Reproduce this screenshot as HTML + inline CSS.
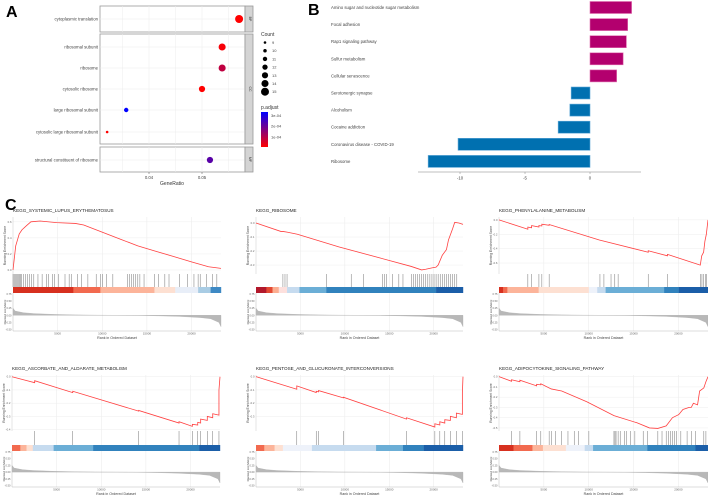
<!DOCTYPE html>
<html><head><meta charset="utf-8"><style>
html,body{margin:0;padding:0;background:#fff;}
svg{display:block;font-family:"Liberation Sans",Arial,sans-serif;}
</style></head><body>
<svg id="fig" width="708" height="498" viewBox="0 0 708 498" xmlns="http://www.w3.org/2000/svg">
<text x="6" y="17" font-size="16" font-weight="bold">A</text>
<text x="308" y="15" font-size="16" font-weight="bold">B</text>
<text x="5" y="210" font-size="16" font-weight="bold">C</text>
<g id="pa"></g>
<g id="pb"></g>
<g id="pc"></g>
</svg>
<script>
// ---------- Panel A data ----------
const goTerms = ["cytoplasmic translation","ribosomal subunit","ribosome","cytosolic ribosome","large ribosomal subunit","cytosolic large ribosomal subunit","structural constituent of ribosome"];
const goFacet = ["BP","CC","CC","CC","CC","CC","MF"];
const goRatio = [0.057,0.0538,0.0538,0.050,0.0357,0.0321,0.0515];
const goCount = [15,14,14,13,11,9,13];
const goPadj = [0.00001,0.00002,0.00009,0.00001,0.00033,0.00001,0.00022];
const goXTicks = [0.04,0.05];
const countLegend = [9,10,11,12,13,14,15];
const padjTicks = [0.0001,0.0002,0.0003];
const padjTickLabels = ["1e-04","2e-04","3e-04"];
// ---------- Panel B data ----------
const keggTerms = ["Amino sugar and nucleotide sugar metabolism","Focal adhesion","Rap1 signaling pathway","Sulfur metabolism","Cellular senescence","Serotonergic synapse","Alcoholism","Cocaine addiction","Coronavirus disease - COVID-19","Ribosome"];
const keggValues = [3.2,2.9,2.8,2.55,2.05,-1.45,-1.55,-2.45,-10.15,-12.45];
const keggTicks = [-10,-5,0];
// ---------- Panel C data ----------
const gseaTitles = ["KEGG_SYSTEMIC_LUPUS_ERYTHEMATOSUS","KEGG_RIBOSOME","KEGG_PHENYLALANINE_METABOLISM","KEGG_ASCORBATE_AND_ALDARATE_METABOLISM","KEGG_PENTOSE_AND_GLUCURONATE_INTERCONVERSIONS","KEGG_ADIPOCYTOKINE_SIGNALING_PATHWAY"];
const rankTicks = [5000,10000,15000,20000];
const rankTotal = 23300;
const esLupus = [[0,0],[0.013,0.3],[0.03,0.45],[0.043,0.5],[0.064,0.55],[0.086,0.6],[0.13,0.61],[0.21,0.59],[0.3,0.58],[0.34,0.56],[0.43,0.47],[0.52,0.38],[0.6,0.3],[0.69,0.23],[0.77,0.17],[0.86,0.1],[0.94,0.04],[1,0.02]];
const esRibosome = [[0,0],[0.12,-0.06],[0.13,-0.06],[0.15,-0.065],[0.2,-0.08],[0.4,-0.17],[0.6,-0.25],[0.75,-0.31],[0.8,-0.335],[0.82,-0.33],[0.85,-0.32],[0.87,-0.315],[0.88,-0.3],[0.9,-0.23],[0.92,-0.19],[0.93,-0.12],[0.95,-0.04],[0.96,0.005],[0.98,0.0],[1,-0.01]];
const esPhe = [[0,0],[0.138,-0.13],[0.138,-0.1],[0.156,-0.11],[0.156,-0.08],[0.191,-0.1],[0.191,-0.08],[0.205,-0.085],[0.205,-0.06],[0.24,-0.075],[0.24,-0.065],[0.48,-0.28],[0.714,-0.45],[0.714,-0.43],[0.806,-0.5],[0.806,-0.48],[0.963,-0.63],[0.97,-0.5],[0.979,-0.45],[0.985,-0.3],[0.992,-0.2],[1,0.0]];
const esAsc = [[0,0],[0.109,-0.045],[0.109,-0.03],[0.292,-0.12],[0.292,-0.11],[0.609,-0.26],[0.609,-0.255],[0.803,-0.35],[0.803,-0.34],[0.867,-0.375],[0.867,-0.36],[0.893,-0.365],[0.893,-0.345],[0.907,-0.35],[0.907,-0.32],[0.939,-0.33],[0.939,-0.3],[0.965,-0.31],[0.965,-0.28],[0.995,-0.29],[0.995,-0.1],[1,0]];
const esPent = [[0,0],[0.197,-0.095],[0.197,-0.07],[0.291,-0.12],[0.291,-0.11],[0.302,-0.115],[0.302,-0.105],[0.422,-0.16],[0.422,-0.155],[0.727,-0.32],[0.727,-0.31],[0.864,-0.38],[0.864,-0.355],[0.888,-0.365],[0.888,-0.34],[0.912,-0.35],[0.912,-0.325],[0.939,-0.33],[0.939,-0.3],[0.968,-0.31],[0.968,-0.275],[0.997,-0.285],[0.997,-0.12],[1,0]];
const esAdipo = [[0,0],[0.06,-0.045],[0.06,-0.03],[0.1,-0.05],[0.1,-0.035],[0.18,-0.09],[0.18,-0.075],[0.2,-0.08],[0.2,-0.07],[0.25,-0.12],[0.3,-0.14],[0.42,-0.245],[0.55,-0.38],[0.66,-0.45],[0.72,-0.5],[0.76,-0.505],[0.8,-0.48],[0.83,-0.4],[0.86,-0.37],[0.88,-0.32],[0.91,-0.3],[0.92,-0.3],[0.93,-0.26],[0.95,-0.275],[0.96,-0.14],[0.98,-0.11],[0.99,-0.05],[1,0.0]];
const hitsLupus = [0,0.005,0.01,0.015,0.02,0.025,0.03,0.035,0.04,0.05,0.06,0.07,0.08,0.09,0.1,0.12,0.14,0.16,0.17,0.19,0.2,0.22,0.25,0.27,0.28,0.31,0.33,0.36,0.4,0.42,0.43,0.45,0.48,0.55,0.56,0.57,0.58,0.59,0.6,0.61,0.63,0.68,0.7,0.73,0.75,0.8,0.84,0.87,0.89,0.9,0.93,0.96,0.98];
const hitsRibosome = [0.13,0.14,0.15,0.34,0.46,0.52,0.61,0.62,0.63,0.66,0.69,0.71,0.75,0.76,0.77,0.78,0.79,0.8,0.81,0.82,0.83,0.84,0.85,0.86,0.87,0.88,0.89,0.9,0.91,0.92,0.93,0.94,0.95,0.96,0.97];
const hitsPhe = [0.138,0.156,0.191,0.205,0.24,0.483,0.502,0.536,0.554,0.57,0.714,0.806,0.963,0.971,0.979,0.987,0.994];
const hitsAsc = [0.109,0.292,0.609,0.803,0.867,0.893,0.907,0.939,0.965,0.995];
const hitsPent = [0.197,0.291,0.302,0.422,0.727,0.864,0.888,0.912,0.939,0.968,0.997];
const hitsAdipo = [0.06,0.1,0.18,0.2,0.24,0.25,0.27,0.3,0.33,0.36,0.38,0.43,0.55,0.555,0.56,0.57,0.58,0.6,0.61,0.63,0.65,0.69,0.71,0.76,0.78,0.8,0.81,0.82,0.83,0.84,0.85,0.87,0.9,0.92,0.94,0.98,0.99];
const esTickLupus = [0,0.2,0.4,0.6];
const esTickRibosome = [-0.3,-0.2,-0.1,0];
const esTickPhe = [-0.6,-0.4,-0.2,0];
const esTickAsc = [-0.4,-0.3,-0.2,-0.1,0];
const esTickPent = [-0.3,-0.2,-0.1,0];
const esTickAdipo = [-0.5,-0.4,-0.3,-0.2,-0.1,0];
const rankMetric = [[0,0.25],[0.01,0.15],[0.05,0.09],[0.1,0.06],[0.2,0.03],[0.3,0.015],[0.4,0.005],[0.5,0],[0.6,-0.005],[0.7,-0.02],[0.8,-0.04],[0.9,-0.08],[0.95,-0.12],[0.99,-0.25],[1,-0.4]];
const rankMetricTicks = [-0.5,-0.25,0,0.25,0.5,0.75];
const colorSegs = [
 [[0,0.29,"#d7301f"],[0.29,0.42,"#f26a4f"],[0.42,0.68,"#fcb49a"],[0.68,0.78,"#fde0d2"],[0.78,0.89,"#e8eef8"],[0.89,0.95,"#a9cce4"],[0.95,1,"#3e89c4"]],
 [[0,0.05,"#b2182b"],[0.05,0.08,"#e34a33"],[0.08,0.11,"#fcae91"],[0.11,0.15,"#fde0dd"],[0.15,0.21,"#c6dbef"],[0.21,0.34,"#6baed6"],[0.34,0.87,"#3182bd"],[0.87,1,"#1b5ea8"]],
 [[0,0.02,"#d7301f"],[0.02,0.04,"#f26a4f"],[0.04,0.19,"#fcb49a"],[0.19,0.43,"#fde0d2"],[0.43,0.47,"#eef2fa"],[0.47,0.51,"#c6dbef"],[0.51,0.79,"#6baed6"],[0.79,0.86,"#3182bd"],[0.86,1,"#1b5ea8"]],
 [[0,0.04,"#f26a4f"],[0.04,0.07,"#fcb49a"],[0.07,0.1,"#fde0d2"],[0.1,0.2,"#c6dbef"],[0.2,0.39,"#6baed6"],[0.39,0.9,"#3182bd"],[0.9,1,"#1b5ea8"]],
 [[0,0.04,"#f26a4f"],[0.04,0.09,"#fcb49a"],[0.09,0.13,"#fde0d2"],[0.13,0.27,"#eef2fa"],[0.27,0.58,"#c6dbef"],[0.58,0.71,"#6baed6"],[0.71,0.81,"#3182bd"],[0.81,1,"#1b5ea8"]],
 [[0,0.07,"#d7301f"],[0.07,0.16,"#f26a4f"],[0.16,0.21,"#fcb49a"],[0.21,0.32,"#fde0d2"],[0.32,0.41,"#eef2fa"],[0.41,0.45,"#c6dbef"],[0.45,0.71,"#6baed6"],[0.71,0.94,"#3182bd"],[0.94,1,"#1b5ea8"]]
];

const NS="http://www.w3.org/2000/svg";
function mk(parent,tag,attrs,txt){const e=document.createElementNS(NS,tag);for(const k in attrs)e.setAttribute(k,attrs[k]);if(txt!==undefined)e.textContent=txt;parent.appendChild(e);return e;}

// ---------- Panel A ----------
(function(){
 const g=document.getElementById('pa');
 const X0=100,X1=245;
 const xs=v=>149+(v-0.04)*5300;
 const facets=[["BP",6,32,[0]],["CC",34,144,[1,2,3,4,5]],["MF",147,172,[6]]];
 const rowY=[19,47,68,89,110,132,160];
 facets.forEach(f=>{
  const r=mk(g,'rect',{x:X0,y:f[1],width:X1-X0,height:f[2]-f[1],fill:'#fff',stroke:'#999','stroke-width':0.8});
  
  
  goXTicks.concat([0.035,0.045,0.055]).forEach(t=>mk(g,'line',{x1:xs(t),x2:xs(t),y1:f[1],y2:f[2],stroke:'#ececec','stroke-width':0.5}));
  f[3].forEach(i=>mk(g,'line',{x1:X0,x2:X1,y1:rowY[i],y2:rowY[i],stroke:'#ececec','stroke-width':0.5}));
  const s=mk(g,'rect',{x:X1,y:f[1],width:8,height:f[2]-f[1],fill:'#d4d4d4',stroke:'#999','stroke-width':0.8});
  
  
  mk(g,'text',{x:X1+4,y:(f[1]+f[2])/2,'font-size':3.5,'text-anchor':'middle',transform:`rotate(90 ${X1+4} ${(f[1]+f[2])/2})`,fill:'#333'},f[0]);
 });
 const pmin=0.00001,pmax=0.00033;
 const col=p=>{const t=Math.max(0,Math.min(1,(p-pmin)/(pmax-pmin)));return `rgb(${Math.round(255*(1-t))},0,${Math.round(255*t)})`;};
 const rad=c=>1.3+(c-9)*0.45;
 goTerms.forEach((t,i)=>{
  const lb=mk(g,'text',{x:98,y:rowY[i]+1.5,'font-size':4.3,'text-anchor':'end',fill:'#444'},t);
  
  
  const c=mk(g,'circle',{cx:xs(goRatio[i]),cy:rowY[i],r:rad(goCount[i]),fill:col(goPadj[i])});
  
  
 });
 goXTicks.forEach(t=>{
  mk(g,'line',{x1:xs(t),x2:xs(t),y1:172,y2:174,stroke:'#555','stroke-width':0.5});
  const tl=mk(g,'text',{x:xs(t),y:179,'font-size':4.3,'text-anchor':'middle',fill:'#444'},t.toFixed(2));
  
  
 });
 const xt=mk(g,'text',{x:172,y:185,'font-size':5,'text-anchor':'middle',fill:'#333'},'GeneRatio');
 
 
 const lt=mk(g,'text',{x:261,y:36,'font-size':5,fill:'#333'},'Count');
 
 
 countLegend.forEach((c,i)=>{
  const y=42.5+i*8.2;
  const d=mk(g,'circle',{cx:265,cy:y,r:rad(c),fill:'#000'});
  
  
  mk(g,'text',{x:272,y:y+1.5,'font-size':4,fill:'#444'},String(c));
 });
 const pt=mk(g,'text',{x:261,y:109,'font-size':5,fill:'#333'},'p.adjust');
 
 
 const defs=mk(g,'defs',{});
 const lg=mk(defs,'linearGradient',{id:'pgrad',x1:0,y1:0,x2:0,y2:1});
 mk(lg,'stop',{offset:0,'stop-color':'#0000ff'});mk(lg,'stop',{offset:1,'stop-color':'#ff0000'});
 const by0=112,by1=147;
 const cb=mk(g,'rect',{x:261,y:by0,width:7,height:by1-by0,fill:'url(#pgrad)'});
 
 
 padjTicks.forEach((t,i)=>{
  const y=by1-(t-pmin)/(pmax-pmin)*(by1-by0);
  mk(g,'text',{x:271,y:y+1.5,'font-size':4,fill:'#444'},padjTickLabels[i]);
 });
})();

// ---------- Panel B ----------
(function(){
 const g=document.getElementById('pb');
 const xs=v=>590+v*13;
 keggTerms.forEach((t,i)=>{
  const cy=7.5+i*17.1;
  const lb=mk(g,'text',{x:331,y:cy+1.5,'font-size':4.3,fill:'#444'},t);
  
  
  const v=keggValues[i];
  const b=mk(g,'rect',{x:Math.min(xs(0),xs(v)),y:cy-6,width:Math.abs(xs(v)-xs(0)),height:12,fill:v>0?'#b3006e':'#0070b0',stroke:v>0?'#e070b0':'#60a8d8','stroke-width':0.6});
  
  
 });
 const ax=mk(g,'line',{x1:418,x2:641,y1:172,y2:172,stroke:'#aaa','stroke-width':0.8});
 
 
 keggTicks.forEach(t=>{
  mk(g,'line',{x1:xs(t),x2:xs(t),y1:172,y2:174,stroke:'#888','stroke-width':0.5});
  const tl=mk(g,'text',{x:xs(t),y:179.5,'font-size':4.3,'text-anchor':'middle',fill:'#444'},String(t));
  
  
 });
})();

// ---------- Panel C ----------
(function(){
 const g=document.getElementById('pc');
 const es=[esLupus,esRibosome,esPhe,esAsc,esPent,esAdipo];
 const hits=[hitsLupus,hitsRibosome,hitsPhe,hitsAsc,hitsPent,hitsAdipo];
 const ticks=[esTickLupus,esTickRibosome,esTickPhe,esTickAsc,esTickPent,esTickAdipo];
 const dom=[[-0.05,0.66],[-0.364,0.043],[-0.753,0.04],[-0.41,0.013],[-0.41,0.0125],[-0.53,0.016]];
 const cols=[[13,221],[256,463],[499,708],[12,220],[256,463],[499,708]];
 const tops=[212,212,212,370,370,370];
 for(let p=0;p<6;p++){
  const [x0,x1]=cols[p],t=tops[p];
  const pg=mk(g,'g',{});
  
  
  const xr=f=>x0+f*(x1-x0);
  const esT=t+5,esB=t+62-(p>=3?1:0),hT=esB,hB=t+75,cT=t+75,cB=t+81,rT=t+81,rB=t+119-(p>=3?2:0);
  const ys=v=>esB-(v-dom[p][0])/(dom[p][1]-dom[p][0])*(esB-esT);
  const tt=mk(pg,'text',{x:x0,y:t,'font-size':4.6,fill:'#222'},gseaTitles[p]);
  
  
  // grid
  rankTicks.forEach(r=>{const x=xr(r/rankTotal);
   mk(pg,'line',{x1:x,x2:x,y1:esT,y2:hB,stroke:'#e8e8e8','stroke-width':0.5});
   mk(pg,'line',{x1:x,x2:x,y1:rT,y2:rB,stroke:'#e8e8e8','stroke-width':0.5});
   mk(pg,'text',{x:x,y:rB+3.5,'font-size':3,'text-anchor':'middle',fill:'#666'},String(r));
  });
  ticks[p].forEach(v=>{
   mk(pg,'line',{x1:x0,x2:x1,y1:ys(v),y2:ys(v),stroke:'#eeeeee','stroke-width':0.5});
   mk(pg,'text',{x:x0-1.5,y:ys(v)+1,'font-size':2.8,'text-anchor':'end',fill:'#666'},v.toFixed(1));
  });
  mk(pg,'line',{x1:x0,x2:x0,y1:esT,y2:esB,stroke:'#ccc','stroke-width':0.5});
  mk(pg,'text',{x:x0-7,y:(esT+esB)/2,'font-size':3.3,'text-anchor':'middle',fill:'#444',transform:`rotate(-90 ${x0-7} ${(esT+esB)/2})`},'Running Enrichment Score');
  // ES curve
  const d=es[p].map((q,i)=>(i?'L':'M')+xr(q[0]).toFixed(2)+' '+ys(q[1]).toFixed(2)).join(' ');
  const cl=mk(pg,'path',{d:d,fill:'none',stroke:'#ff4040','stroke-width':0.8});
  
  
  // hits
  hits[p].forEach(h=>{
   const hl=mk(pg,'line',{x1:xr(h),x2:xr(h),y1:hT,y2:hB,stroke:'#333','stroke-width':0.45,'stroke-opacity':0.75});
   
   
  });
  // color bar
  colorSegs[p].forEach(s=>{
   const r=mk(pg,'rect',{x:xr(s[0]),y:cT,width:xr(s[1])-xr(s[0])+0.2,height:cB-cT,fill:s[2]});
   
   
  });
  // ranked list
  const rmin=-0.55,rmax=0.78;
  const ry=v=>rB-(v-rmin)/(rmax-rmin)*(rB-rT);
  rankMetricTicks.forEach(v=>mk(pg,'text',{x:x0-1.5,y:ry(v)+1,'font-size':2.6,'text-anchor':'end',fill:'#666'},v.toFixed(2)));
  let rd='M'+xr(0)+' '+ry(0)+' '+rankMetric.map(q=>'L'+xr(q[0]).toFixed(2)+' '+ry(q[1]).toFixed(2)).join(' ')+' L'+xr(1)+' '+ry(0)+' Z';
  const ra=mk(pg,'path',{d:rd,fill:'#b8b8b8',stroke:'#aaa','stroke-width':0.3});
  
  
  mk(pg,'line',{x1:x0,x2:x0,y1:rT,y2:rB,stroke:'#bbb','stroke-width':0.5});
  mk(pg,'line',{x1:x0,x2:x1,y1:rB,y2:rB,stroke:'#bbb','stroke-width':0.5});
  mk(pg,'text',{x:x0-7,y:(rT+rB)/2,'font-size':3,'text-anchor':'middle',fill:'#444',transform:`rotate(-90 ${x0-7} ${(rT+rB)/2})`},'Ranked List Metric');
  const xl=mk(pg,'text',{x:(x0+x1)/2,y:rB+8,'font-size':3.6,'text-anchor':'middle',fill:'#444'},'Rank in Ordered Dataset');
  
  
 }
})();
</script>
</body></html>
